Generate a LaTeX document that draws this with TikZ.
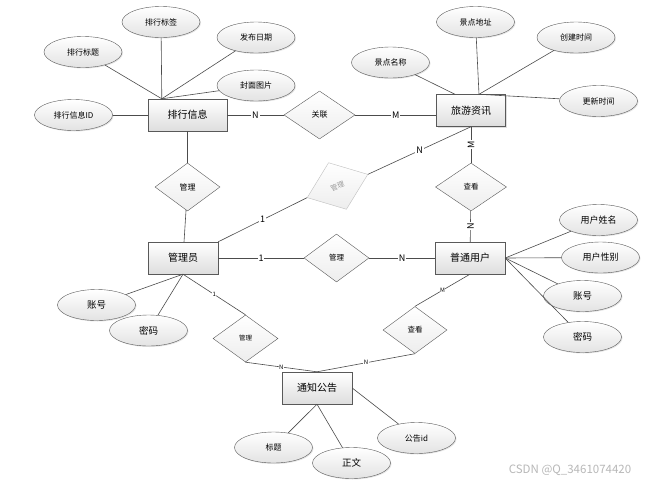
\documentclass[tikz,border=0pt]{standalone}
\usepackage{fontspec}
\setmainfont{Noto Sans CJK SC}
\usepackage{tikz}
\usetikzlibrary{shapes.geometric,shadows,positioning}
\tikzset{
  entity/.style={draw=black!65, minimum width=70pt, minimum height=32pt, inner sep=0pt,
    top color=white, bottom color=black!13, drop shadow={shadow xshift=1pt, shadow yshift=-1pt, opacity=.25},
    font=\fontsize{10}{12}\selectfont},
  attr/.style={ellipse, draw=black!65, minimum width=78pt, minimum height=31pt, inner sep=0pt,
    top color=white, bottom color=black!11, drop shadow={shadow xshift=1pt, shadow yshift=-1pt, opacity=.2},
    font=\fontsize{8}{10}\selectfont},
  rel/.style={diamond, draw=black!65, minimum width=65pt, minimum height=48pt, inner sep=0pt,
    top color=white, bottom color=black!7, font=\fontsize{7.5}{9}\selectfont},
  lab/.style={fill=white, inner sep=.8pt, font=\fontsize{9}{10}\selectfont},
  tinylab/.style={fill=white, inner sep=.5pt, font=\fontsize{6}{7}\selectfont},
  every edge/.style={draw=black!70, line width=.6pt}}

\begin{document}
\begin{tikzpicture}[x=1pt, y=-1pt]
        \useasboundingbox[fill=white] (0,0) rectangle (653,485);
        % entities
        \node[entity, minimum width=79pt] (e_rank) at (187.5,115) {排行信息};
        \node[entity, minimum width=69pt] (e_news) at (471,110.5) {旅游资讯};
        \node[entity] (e_admin)  at (183,258) {管理员};
        \node[entity] (e_user)   at (470,258) {普通用户};
        \node[entity] (e_notice) at (317,388) {通知公告};
        % relations
        \node[rel, minimum width=71pt, font=\fontsize{8}{9}\selectfont] (r_link) at (319.5,115) {关联};
        \node[rel, font=\fontsize{8}{9}\selectfont] (r_rank) at (187.5,187) {管理};
        \node[rel, minimum height=50pt, rotate=21, draw=black!25, text=black!40,
          font=\fontsize{7}{8}\selectfont] (r_grey) at (337.5,186) {管理};
        \node[rel] (r_adm)   at (336.5,258) {管理};
        \node[rel, minimum width=71pt] (r_view1) at (471,187) {查看};
        \node[rel, minimum width=64pt, minimum height=47pt] (r_view2) at (415,330) {查看};
        \node[rel, minimum height=47pt, font=\fontsize{6.5}{8}\selectfont] (r_note) at (245.5,338.5) {管理};
        % attributes
        \node[attr] (a_tag)   at (161,22)    {排行标签};
        \node[attr] (a_title) at (83,52)     {排行标题};
        \node[attr] (a_date)  at (256,37.5)  {发布日期};
        \node[attr] (a_cover) at (256,85.5)  {封面图片};
        \node[attr] (a_id)    at (73.5,115)  {排行信息ID};
        \node[attr] (a_name)  at (390.5,62.5) {景点名称};
        \node[attr] (a_addr)  at (475.5,22)  {景点地址};
        \node[attr] (a_ctime) at (576,37.5)  {创建时间};
        \node[attr] (a_utime) at (598.5,101) {更新时间};
        \node[attr, font=\fontsize{9}{10}\selectfont] (a_uname) at (598.5,220) {用户姓名};
        \node[attr, font=\fontsize{9}{10}\selectfont] (a_sex)   at (600.5,257.5) {用户性别};
        \node[attr, font=\fontsize{9.5}{10}\selectfont] (a_uacc) at (582.5,296) {账号};
        \node[attr, font=\fontsize{9.5}{10}\selectfont] (a_upwd) at (582.5,337) {密码};
        \node[attr] (a_ntid)   at (416.5,438)  {公告id};
        \node[attr, font=\fontsize{9.5}{10}\selectfont] (a_body) at (351.5,463) {正文};
        \node[attr] (a_ntitle) at (273.5,447.5) {标题};
        \node[attr, font=\fontsize{9.5}{10}\selectfont] (a_acc) at (96.5,305) {账号};
        \node[attr, font=\fontsize{9.5}{10}\selectfont] (a_pwd) at (148.5,330.5) {密码};
        \node[font=\fontsize{11.5}{12}\selectfont, text=black!28] (wm) at (570,470.5) {CSDN @Q\_3461074420};
        % meeting points on the boxes
        \coordinate (c_rank)  at ([xshift=14pt]e_rank.north west);
        \coordinate (c_news)  at ([xshift=-16pt]e_news.north);
        \coordinate (c_news2) at ([xshift=8pt]e_news.north);
        \path
          (a_tag) edge (c_rank)
          (a_title) edge (c_rank)
          (a_date) edge (c_rank)
          (a_cover) edge (c_rank)
          (a_id) edge (e_rank.west)
          (a_name) edge (c_news)
          (a_addr) edge (c_news2)
          (a_ctime) edge (c_news2)
          (a_utime) edge (c_news2)
          (a_uname) edge (e_user.east)
          (a_sex) edge (e_user.east)
          (a_uacc) edge (e_user.east)
          (a_upwd) edge (e_user.east)
          (a_acc) edge (e_admin.south)
          (a_pwd) edge (e_admin.south)
          (a_ntitle) edge (e_notice.south)
          (a_body) edge (e_notice.south)
          (a_ntid) edge (e_notice.east);
        \path
          (e_rank) edge node[lab] {N} (r_link)
          (r_link.east) edge node[lab] {M} (r_link.east -| e_news.west)
          (e_rank) edge (r_rank)
          (r_rank) edge (e_admin)
          (e_news) edge node[lab, rotate=90] {M} (r_view1)
          (r_view1) edge node[lab, rotate=90] {N} (e_user)
          (e_admin) edge node[lab] {1} (r_adm)
          (r_adm) edge node[lab] {N} (e_user)
          (e_admin.north east) edge node[lab] {1} (r_grey.west)
          (r_grey.east) edge node[lab] {N} (e_news.south)
          (e_admin.south) edge node[tinylab] {1} (r_note.north)
          (r_note.south) edge node[tinylab] {N} (e_notice.north)
          (r_view2.north) edge node[tinylab] {M} (e_user.south)
          (r_view2.south) edge node[tinylab] {N} (e_notice.north);
      \end{tikzpicture}
\end{document}
